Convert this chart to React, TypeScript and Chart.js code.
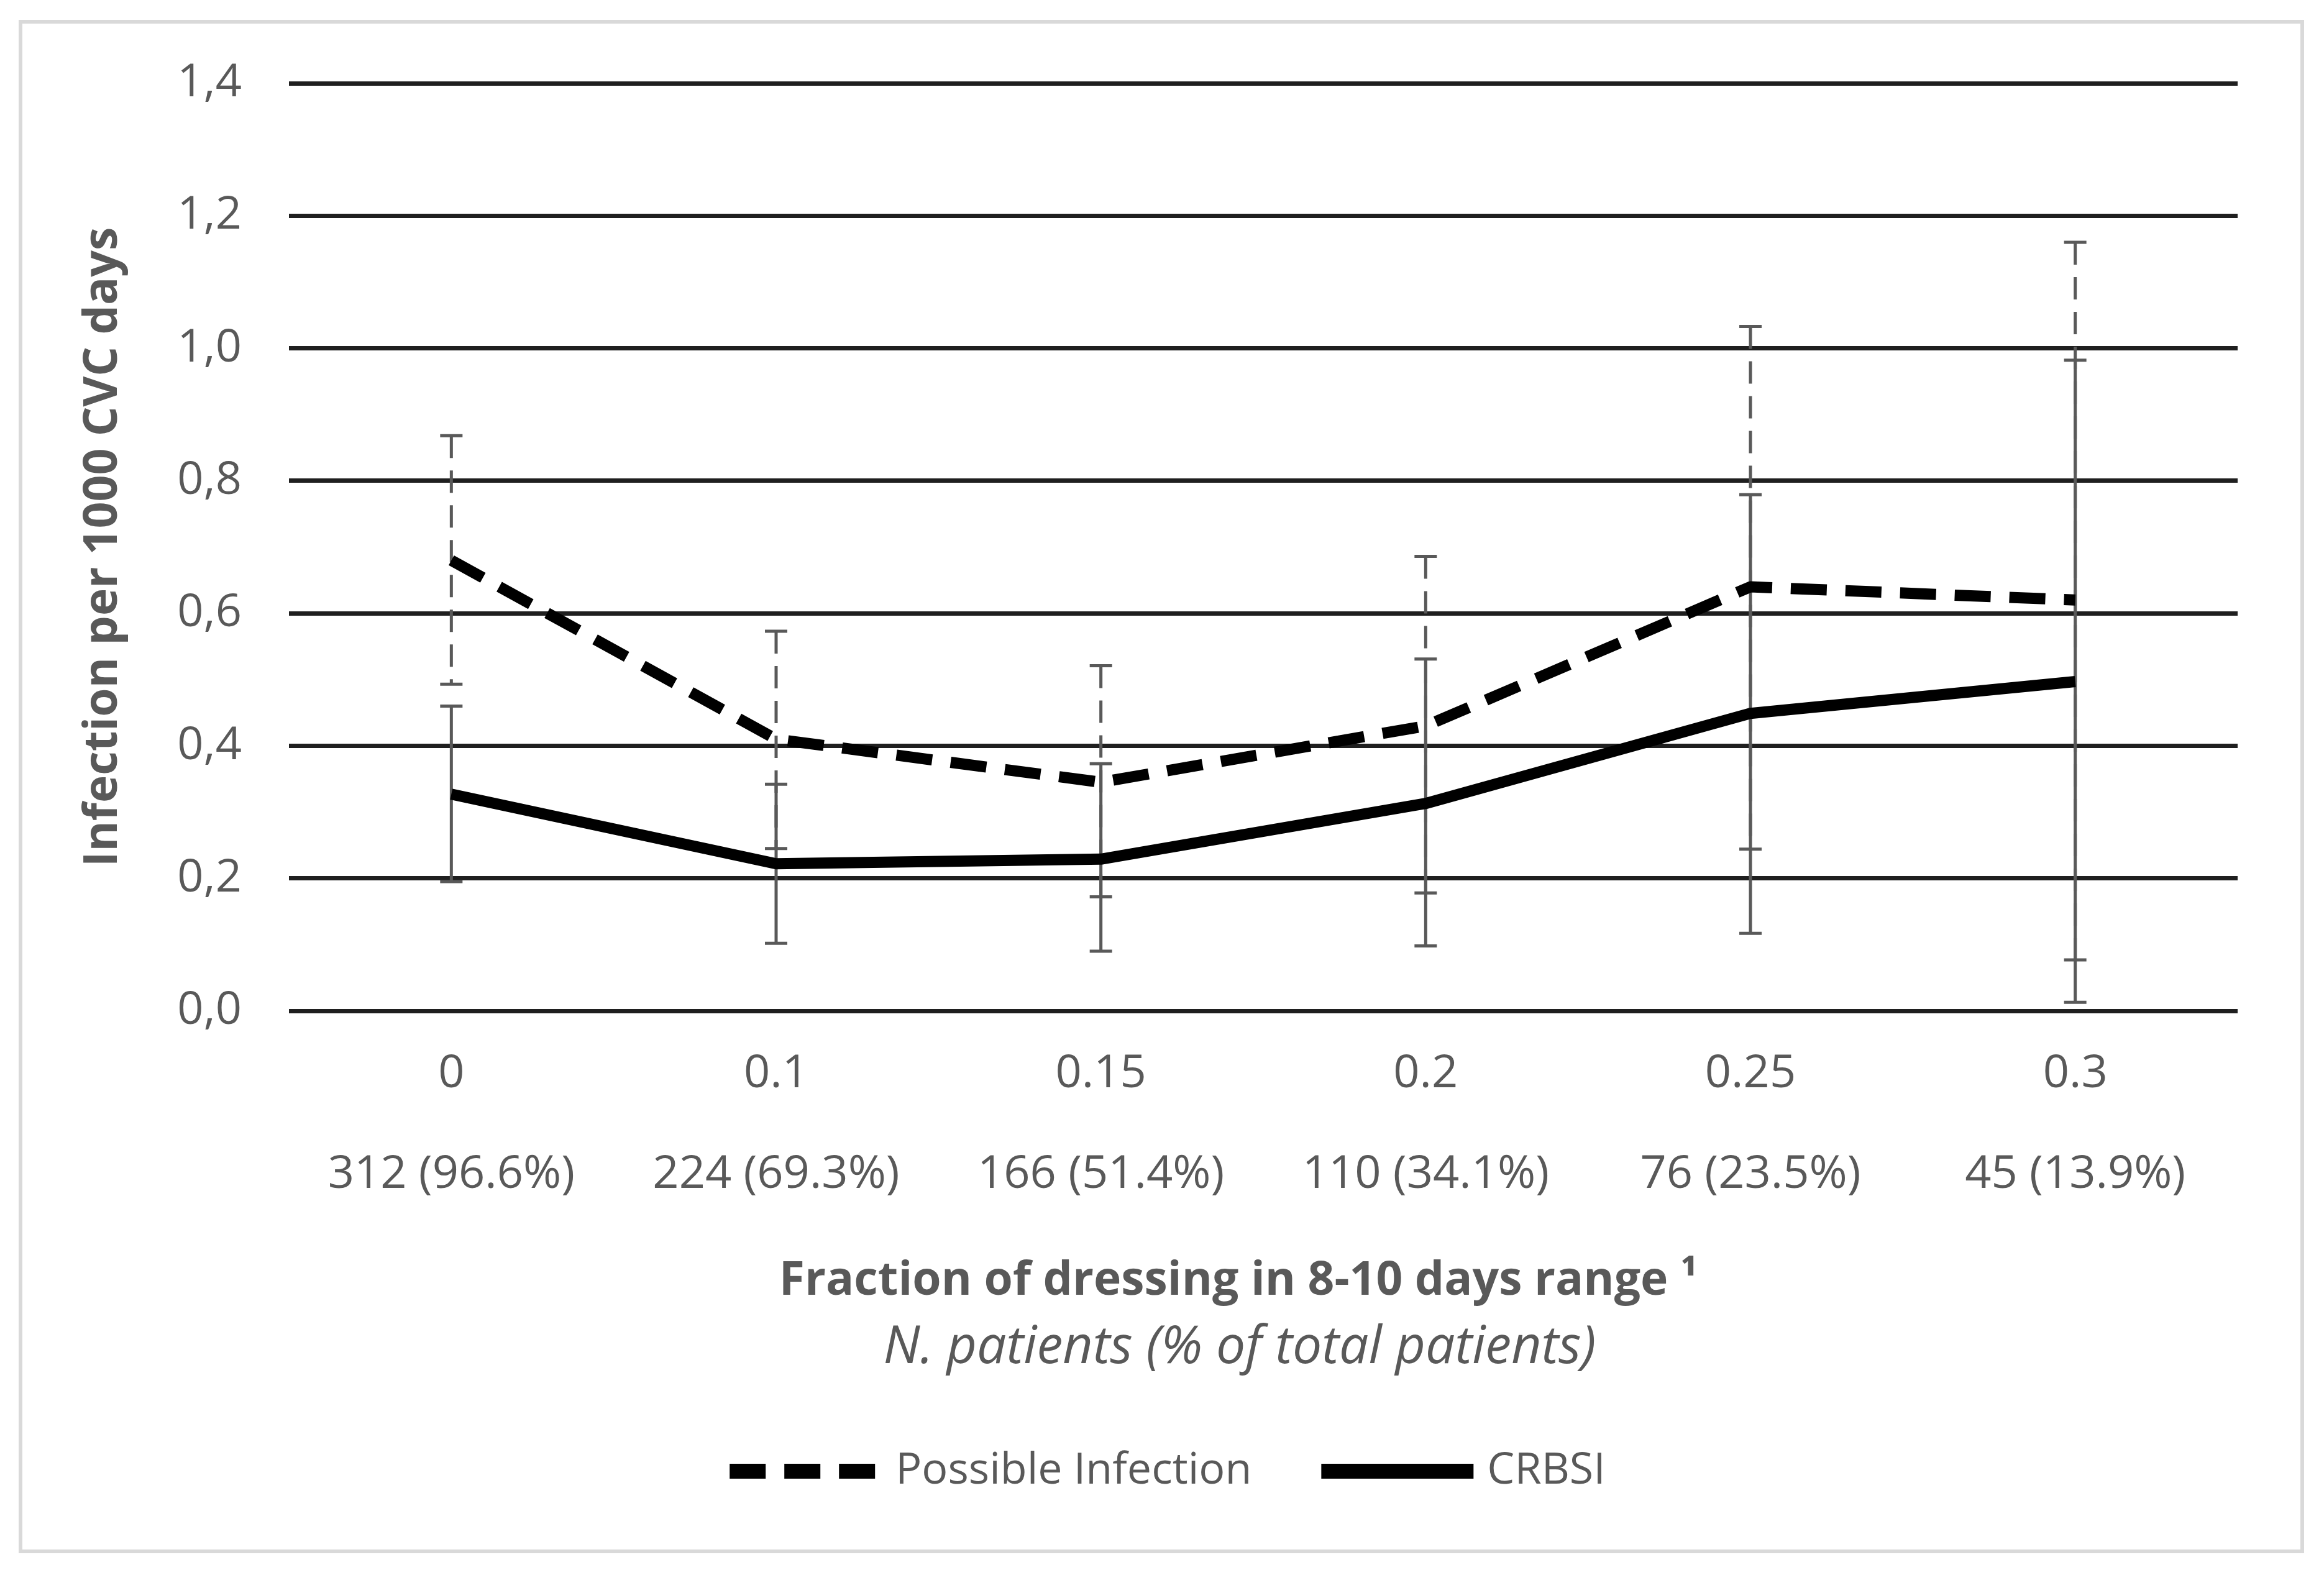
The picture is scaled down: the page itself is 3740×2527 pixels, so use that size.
import React, { useEffect, useRef } from 'react';
import { Chart, registerables } from 'chart.js';

Chart.register(...registerables);

// ---- data ----
const categories = ['0', '0.1', '0.15', '0.2', '0.25', '0.3'];
const patientLabels = ['312 (96.6%)', '224 (69.3%)', '166 (51.4%)', '110 (34.1%)', '76 (23.5%)', '45 (13.9%)'];

const possibleInfection = [0.68, 0.41, 0.345, 0.43, 0.64, 0.62];
const possibleUpper = [0.868, 0.573, 0.521, 0.686, 1.033, 1.16];
const possibleLower = [0.493, 0.245, 0.172, 0.178, 0.244, 0.077];

const crbsi = [0.327, 0.222, 0.229, 0.313, 0.449, 0.497];
const crbsiUpper = [0.46, 0.342, 0.373, 0.531, 0.779, 0.982];
const crbsiLower = [0.195, 0.102, 0.09, 0.098, 0.117, 0.013];

const yMin = 0;
const yMax = 1.4;
const yStep = 0.2;

const yTitle = 'Infection per 1000 CVC days';
const xTitle = 'Fraction of dressing in 8-10 days range \u00B9';
const xSubtitle = 'N. patients (% of total patients)';
const seriesNames = ['Possible Infection', 'CRBSI'];

// ---- styles ----
const FONT = '"Open Sans", "Noto Sans", sans-serif';
const TEXT = '#595959';
const W = 3740;
const H = 2527;

const framePlugin = {
  id: 'frame',
  beforeDraw(chart: any) {
    const { ctx } = chart;
    ctx.save();
    ctx.fillStyle = '#ffffff';
    ctx.fillRect(0, 0, chart.width, chart.height);
    ctx.strokeStyle = '#d9d9d9';
    ctx.lineWidth = 6;
    ctx.strokeRect(33, 35, 3672, 2462);
    ctx.restore();
  },
};

const errorBarPlugin = {
  id: 'errorBars',
  beforeDatasetsDraw(chart: any) {
    const { ctx } = chart;
    const x = chart.scales.x;
    const y = chart.scales.y;
    chart.data.datasets.forEach((ds: any) => {
      const eb = ds.errorBars;
      if (!eb) return;
      ctx.save();
      ctx.strokeStyle = '#595959';
      ctx.lineWidth = 5;
      ctx.lineCap = 'butt';
      for (let i = 0; i < eb.upper.length; i++) {
        const px = x.getPixelForValue(i);
        const yu = y.getPixelForValue(eb.upper[i]);
        const yl = y.getPixelForValue(eb.lower[i]);
        ctx.setLineDash(eb.dash);
        ctx.beginPath();
        ctx.moveTo(px, yu);
        ctx.lineTo(px, yl);
        ctx.stroke();
        ctx.setLineDash([]);
        ctx.beginPath();
        ctx.moveTo(px - 18, yu);
        ctx.lineTo(px + 18, yu);
        ctx.moveTo(px - 18, yl);
        ctx.lineTo(px + 18, yl);
        ctx.stroke();
      }
      ctx.restore();
    });
  },
};

const titlesLegendPlugin = {
  id: 'titlesLegend',
  afterDraw(chart: any) {
    const { ctx, chartArea } = chart;
    const cx = (chartArea.left + chartArea.right) / 2 - 40;
    ctx.save();
    ctx.fillStyle = TEXT;
    ctx.textAlign = 'center';
    ctx.textBaseline = 'middle';
    ctx.font = `bold 75px ${FONT}`;
    ctx.fillText(xTitle, cx, chartArea.bottom + 436);
    ctx.font = `italic 84px ${FONT}`;
    ctx.fillText(xSubtitle, cx + 2, chartArea.bottom + 543);

    // legend
    const ly = chartArea.bottom + 741;
    const symW = 245;
    const symGap = 22;
    const itemGap = 112;
    ctx.font = `70px ${FONT}`;
    const widths = chart.data.datasets.map((ds: any) => ctx.measureText(ds.label).width);
    const total = widths.reduce((a: number, b: number) => a + b, 0) + chart.data.datasets.length * (symW + symGap) + itemGap * (chart.data.datasets.length - 1);
    let lx = chart.width / 2 + 9 - total / 2;
    chart.data.datasets.forEach((ds: any, i: number) => {
      ctx.save();
      ctx.strokeStyle = ds.borderColor;
      ctx.lineWidth = 24;
      ctx.lineCap = 'butt';
      ctx.setLineDash(ds.borderDash || []);
      ctx.beginPath();
      ctx.moveTo(lx, ly);
      ctx.lineTo(lx + symW, ly);
      ctx.stroke();
      ctx.restore();
      ctx.textAlign = 'left';
      ctx.fillStyle = TEXT;
      ctx.fillText(ds.label, lx + symW + symGap, ly);
      lx += symW + symGap + widths[i] + itemGap;
    });
    ctx.restore();
  },
};

export default function App() {
  const ref = useRef<HTMLCanvasElement | null>(null);

  useEffect(() => {
    if (!ref.current) return;
    const chart = new Chart(ref.current, {
      type: 'line',
      data: {
        labels: categories.map((c, i) => [c, patientLabels[i]]),
        datasets: [
          {
            label: seriesNames[0],
            data: possibleInfection,
            borderColor: '#000000',
            borderWidth: 18,
            borderDash: [58, 30],
            borderCapStyle: 'butt',
            borderJoinStyle: 'round',
            pointRadius: 0,
            tension: 0,
            fill: false,
            errorBars: { upper: possibleUpper, lower: possibleLower, dash: [36, 20] },
          } as any,
          {
            label: seriesNames[1],
            data: crbsi,
            borderColor: '#000000',
            borderWidth: 18,
            borderCapStyle: 'butt',
            borderJoinStyle: 'round',
            pointRadius: 0,
            tension: 0,
            fill: false,
            errorBars: { upper: crbsiUpper, lower: crbsiLower, dash: [] },
          } as any,
        ],
      },
      options: {
        responsive: false,
        animation: false,
        devicePixelRatio: 1,
        layout: { padding: { left: 40, right: 139, top: 134, bottom: 0 } },
        plugins: {
          legend: { display: false },
          tooltip: { enabled: false },
        },
        scales: {
          x: {
            type: 'category',
            offset: true,
            grid: { display: false, drawTicks: false },
            border: { display: false },
            ticks: {
              color: TEXT,
              font: { family: FONT, size: 74, lineHeight: 2.19 },
              padding: 21,
              autoSkip: false,
              maxRotation: 0,
            },
            afterFit: (s: any) => {
              s.height = 900;
            },
          },
          y: {
            min: yMin,
            max: yMax,
            ticks: {
              stepSize: yStep,
              color: TEXT,
              font: { family: FONT, size: 74 },
              padding: 76,
              callback: (v: any) => Number(v).toFixed(1).replace('.', ','),
            },
            grid: { color: '#1f1f1f', lineWidth: 7, drawTicks: false },
            border: { display: false },
            title: {
              display: true,
              text: yTitle,
              color: TEXT,
              font: { family: FONT, size: 75, weight: 'bold' },
              padding: { top: 82, bottom: 0 },
            },
            afterFit: (s: any) => {
              s.width = 425;
            },
          },
        },
      } as any,
      plugins: [framePlugin, errorBarPlugin, titlesLegendPlugin],
    });
    return () => chart.destroy();
  }, []);

  return (
    <div style={{ position: 'absolute', left: 0, top: 0, width: W, height: H }}>
      <canvas ref={ref} width={W} height={H} style={{ display: 'block', width: W, height: H }} />
    </div>
  );
}
